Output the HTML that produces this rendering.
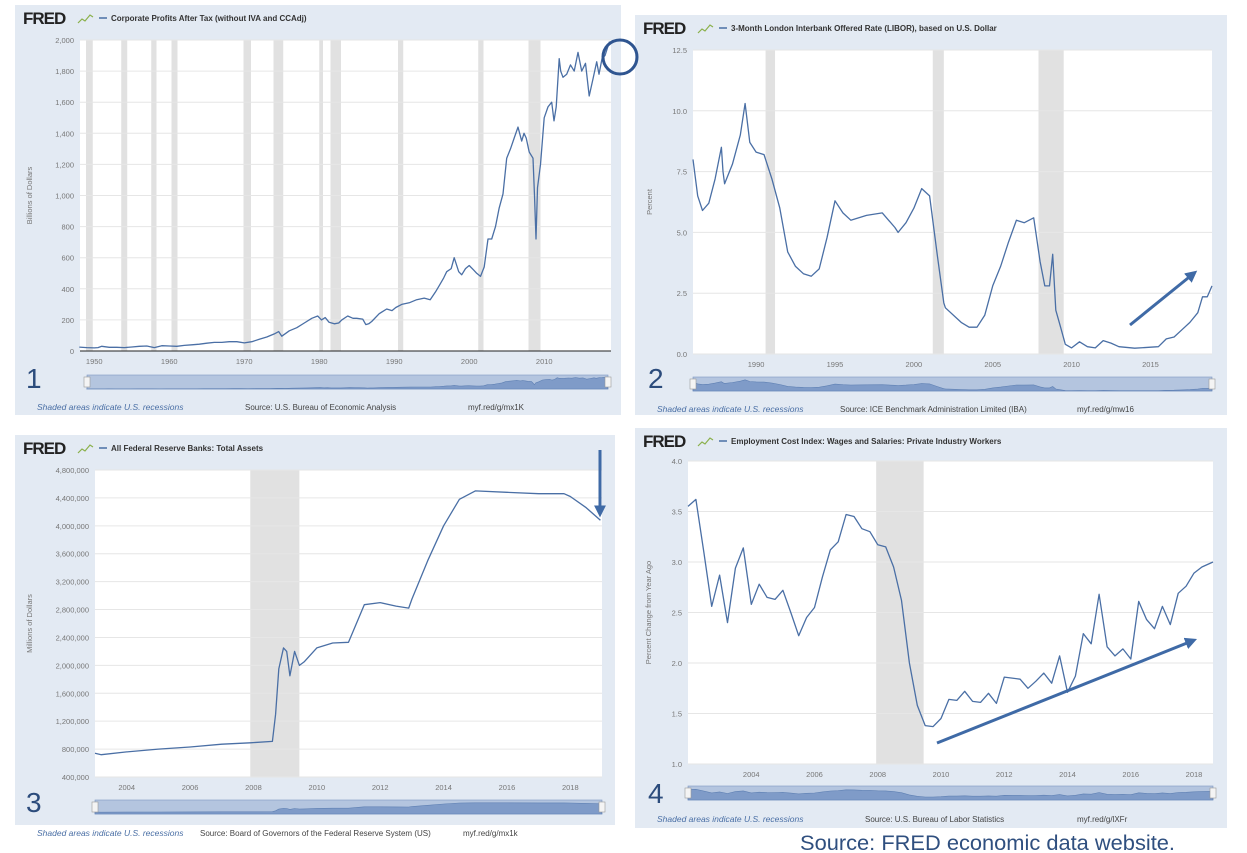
<!DOCTYPE html>
<html><head><meta charset="utf-8"><style>
html,body{margin:0;padding:0;background:#fff;}
svg{display:block;font-family:"Liberation Sans",sans-serif;}
</style></head><body>
<svg id="s" width="1247" height="853" viewBox="0 0 1247 853"></svg>
<script>
// ---- Chart 1: Corporate profits (billions)
const c1Years=[1948,1949,1950,1950.5,1951,1952,1953,1954,1955,1956,1957,1958,1959,1960,1961,1962,1963,1964,1965,1966,1967,1968,1969,1970,1971,1972,1973,1974,1974.6,1975,1976,1977,1978,1979,1979.8,1980.3,1980.8,1981.3,1982,1982.6,1983,1983.8,1984.5,1985,1985.8,1986.2,1986.6,1987,1988,1989,1989.7,1990.2,1991,1992,1993,1994,1994.8,1995.5,1996,1996.6,1997,1997.6,1998,1998.6,1999,1999.5,2000,2000.6,2001,2001.5,2002,2002.5,2003,2003.5,2004,2004.5,2005,2005.5,2006,2006.5,2007,2007.3,2007.6,2008,2008.5,2008.7,2008.9,2009.1,2009.5,2010,2010.5,2011,2011.3,2011.6,2012,2012.2,2012.5,2013,2013.5,2014,2014.5,2015,2015.5,2016,2016.5,2017,2017.3,2017.7,2018.1,2018.7];
const c1Vals=[25,22,20,22,30,24,24,22,26,30,32,22,34,32,30,36,40,44,50,55,55,60,60,52,60,75,90,110,125,95,130,150,180,210,225,200,215,185,175,180,200,225,210,210,205,170,175,190,240,270,260,280,300,310,330,340,330,380,420,470,510,530,600,510,490,530,550,520,500,480,540,720,720,800,920,1010,1240,1300,1370,1440,1350,1400,1370,1280,1240,1000,720,1050,1200,1500,1570,1600,1480,1570,1880,1800,1760,1780,1840,1800,1920,1800,1850,1640,1750,1860,1780,1880,1900,1990];
const c1YTicks=[0,200,400,600,800,1000,1200,1400,1600,1800,2000];
const c1YLabels=["0","200","400","600","800","1,000","1,200","1,400","1,600","1,800","2,000"];
const c1XTicks=[1950,1960,1970,1980,1990,2000,2010];
const c1Rec=[[1948.9,1949.8],[1953.6,1954.4],[1957.6,1958.3],[1960.3,1961.1],[1969.9,1970.9],[1973.9,1975.2],[1980.0,1980.5],[1981.5,1982.9],[1990.5,1991.2],[2001.2,2001.9],[2007.9,2009.5]];

// ---- Chart 2: LIBOR (percent)
const c2Years=[1986,1986.3,1986.6,1987,1987.4,1987.8,1987.9,1988,1988.5,1989,1989.3,1989.6,1990,1990.5,1991,1991.5,1992,1992.5,1993,1993.5,1994,1994.5,1995,1995.5,1996,1997,1998,1998.8,1999,1999.5,2000,2000.5,2001,2001.5,2001.9,2002,2003,2003.5,2004,2004.5,2005,2005.5,2006,2006.5,2007,2007.6,2008,2008.3,2008.6,2008.8,2009,2009.3,2009.6,2010,2010.5,2011,2011.5,2012,2012.5,2013,2014,2015,2015.5,2016,2016.5,2017,2017.5,2018,2018.3,2018.6,2018.9];
const c2Vals=[8,6.5,5.9,6.2,7.2,8.5,7.5,7,7.8,9,10.3,8.7,8.3,8.2,7.2,6.0,4.2,3.6,3.3,3.2,3.5,4.8,6.3,5.8,5.5,5.7,5.8,5.2,5.0,5.4,6.0,6.8,6.5,4.0,2.1,1.9,1.3,1.1,1.1,1.6,2.8,3.6,4.6,5.5,5.4,5.6,3.8,2.8,2.8,4.1,1.8,1.1,0.4,0.25,0.5,0.3,0.25,0.55,0.45,0.3,0.24,0.28,0.3,0.62,0.7,1.0,1.3,1.7,2.35,2.35,2.8];
const c2YTicks=[0,2.5,5,7.5,10,12.5];
const c2YLabels=["0.0","2.5","5.0","7.5","10.0","12.5"];
const c2XTicks=[1990,1995,2000,2005,2010,2015];
const c2Rec=[[1990.6,1991.2],[2001.2,2001.9],[2007.9,2009.5]];

// ---- Chart 3: Fed total assets (millions)
const c3Years=[2003,2003.2,2004,2005,2006,2007,2007.9,2008.6,2008.7,2008.8,2008.95,2009.05,2009.15,2009.3,2009.45,2009.6,2010,2010.5,2011,2011.5,2012,2012.5,2012.9,2013,2013.5,2014,2014.5,2015,2016,2017,2017.8,2018,2018.5,2018.95];
const c3Vals=[740000,720000,760000,800000,830000,870000,890000,910000,1300000,1950000,2250000,2200000,1850000,2200000,2000000,2050000,2250000,2320000,2330000,2870000,2900000,2850000,2820000,2950000,3500000,4000000,4380000,4500000,4480000,4460000,4460000,4420000,4260000,4080000];
const c3YTicks=[400000,800000,1200000,1600000,2000000,2400000,2800000,3200000,3600000,4000000,4400000,4800000];
const c3YLabels=["400,000","800,000","1,200,000","1,600,000","2,000,000","2,400,000","2,800,000","3,200,000","3,600,000","4,000,000","4,400,000","4,800,000"];
const c3XTicks=[2004,2006,2008,2010,2012,2014,2016,2018];
const c3Rec=[[2007.9,2009.45]];

// ---- Chart 4: ECI wages (pct change)
const c4Years=[2002,2002.25,2002.5,2002.75,2003,2003.25,2003.5,2003.75,2004,2004.25,2004.5,2004.75,2005,2005.25,2005.5,2005.75,2006,2006.25,2006.5,2006.75,2007,2007.25,2007.5,2007.75,2008,2008.25,2008.5,2008.75,2009,2009.25,2009.5,2009.75,2010,2010.25,2010.5,2010.75,2011,2011.25,2011.5,2011.75,2012,2012.25,2012.5,2012.75,2013,2013.25,2013.5,2013.75,2014,2014.25,2014.5,2014.75,2015,2015.25,2015.5,2015.75,2016,2016.25,2016.5,2016.75,2017,2017.25,2017.5,2017.75,2018,2018.25,2018.6];
const c4Vals=[3.55,3.62,3.1,2.56,2.87,2.4,2.94,3.14,2.58,2.78,2.65,2.63,2.72,2.5,2.27,2.45,2.55,2.85,3.12,3.2,3.47,3.45,3.33,3.3,3.17,3.15,2.95,2.62,2.0,1.58,1.38,1.37,1.45,1.64,1.63,1.72,1.62,1.61,1.7,1.6,1.86,1.85,1.84,1.75,1.82,1.9,1.8,2.07,1.71,1.87,2.29,2.19,2.68,2.16,2.07,2.14,2.04,2.61,2.43,2.34,2.56,2.38,2.69,2.76,2.89,2.95,3.0];
const c4YTicks=[1.0,1.5,2.0,2.5,3.0,3.5,4.0];
const c4YLabels=["1.0","1.5","2.0","2.5","3.0","3.5","4.0"];
const c4XTicks=[2004,2006,2008,2010,2012,2014,2016,2018];
const c4Rec=[[2007.95,2009.45]];

const NS="http://www.w3.org/2000/svg";
const svg=document.getElementById('s');
function mk(tag,attrs,parent,text){const e=document.createElementNS(NS,tag);for(const k in attrs)e.setAttribute(k,attrs[k]);if(text!==undefined)e.textContent=text;(parent||svg).appendChild(e);return e;}
const LINE="#4a6fa5";

function panel(cfg){
  const g=mk('g',{});
  
  
  const bg=mk('rect',{x:cfg.bx,y:cfg.by,width:cfg.bw,height:cfg.bh,fill:'#e3eaf3'},g);
  
  
  const L=cfg.L,R=cfg.R,T=cfg.T,B=cfg.B;
  const xs=v=>L+(v-cfg.x0)/(cfg.x1-cfg.x0)*(R-L);
  const ys=v=>B-(v-cfg.y0)/(cfg.y1-cfg.y0)*(B-T);
  const pa=mk('rect',{x:L,y:T,width:R-L,height:B-T,fill:'#fff'},g);
  
  
  cfg.rec.forEach(r=>{const e=mk('rect',{x:xs(r[0]),y:T,width:xs(r[1])-xs(r[0]),height:B-T,fill:'#e1e1e1'},g);
    
    });
  cfg.yt.forEach((v,i)=>{
    const gl=mk('line',{x1:L,x2:R,y1:ys(v),y2:ys(v),stroke:'#e6e6e6','stroke-width':1},g);
    
    
    const t=mk('text',{x:L-6,y:ys(v)+3,'font-size':7.5,fill:'#777','text-anchor':'end'},g,cfg.yl[i]);
    
    
  });
  if(cfg.axisLine){mk('line',{x1:L,x2:R,y1:B,y2:B,stroke:'#222','stroke-width':1},g);}
  cfg.xt.forEach(v=>{const t=mk('text',{x:xs(v),y:B+13,'font-size':7.5,fill:'#777','text-anchor':'middle'},g,String(v));
    
    });
  const pts=cfg.xv.map((x,i)=>xs(x).toFixed(1)+','+ys(cfg.yv[i]).toFixed(1)).join(' ');
  const pl=mk('polyline',{points:pts,fill:'none',stroke:LINE,'stroke-width':1.3,'stroke-linejoin':'round'},g);
  
  
  const yt=mk('text',{x:0,y:0,'font-size':7.5,fill:'#777','text-anchor':'middle',transform:`translate(${cfg.ytx},${(T+B)/2}) rotate(-90)`},g,cfg.ytitle);
  
  
  const lg=mk('text',{x:cfg.bx+8,y:cfg.by+19,'font-size':17,'font-weight':'bold',fill:'#222','letter-spacing':'-1'},g,'FRED');
  
  
  mk('path',{d:`M${cfg.bx+63} ${cfg.by+18} l4 -4 l3 2 l5 -6 l3 2`,fill:'none',stroke:'#8ab04a','stroke-width':1.2},g);
  mk('line',{x1:cfg.bx+84,x2:cfg.bx+92,y1:cfg.by+13,y2:cfg.by+13,stroke:LINE,'stroke-width':1.5},g);
  const tt=mk('text',{x:cfg.bx+96,y:cfg.by+16,'font-size':8,'font-weight':'bold',fill:'#333'},g,cfg.title);
  
  
  const nv=mk('rect',{x:cfg.nx0,y:cfg.ny,width:cfg.nx1-cfg.nx0,height:14,fill:'#b4c5df',stroke:'#7d97c2','stroke-width':0.6},g);
  
  
  const nxs=v=>cfg.nx0+(v-cfg.x0)/(cfg.x1-cfg.x0)*(cfg.nx1-cfg.nx0);
  const nys=v=>cfg.ny+14-(v-cfg.navMin)/(cfg.navMax-cfg.navMin)*12;
  let np=`${cfg.nx0},${cfg.ny+14} `+cfg.xv.map((x,i)=>nxs(x).toFixed(1)+','+Math.min(cfg.ny+14,nys(cfg.yv[i])).toFixed(1)).join(' ')+` ${cfg.nx1},${cfg.ny+14}`;
  mk('polygon',{points:np,fill:'#7f9bc8',stroke:'#5f80b3','stroke-width':0.6},g);
  [cfg.nx0,cfg.nx1].forEach(x=>{const h=mk('rect',{x:x-3,y:cfg.ny+2,width:6,height:10,fill:'#f4f4f4',stroke:'#999','stroke-width':0.6},g);
    
    });
  const f1=mk('text',{x:cfg.fx[0],y:cfg.fy,'font-size':8.5,'font-style':'italic',fill:'#4a6fa5'},g,'Shaded areas indicate U.S. recessions');
  
  
  const f2=mk('text',{x:cfg.fx[1],y:cfg.fy,'font-size':8,fill:'#444'},g,cfg.source);
  
  
  const f3=mk('text',{x:cfg.fx[2],y:cfg.fy,'font-size':8,fill:'#444'},g,cfg.link);
  
  
  const n=mk('text',{x:cfg.numx,y:cfg.numy,'font-size':28,fill:'#2c4c7c'},g,cfg.num);
  
  
}

panel({name:'corporate-profits-chart',bx:15,by:5,bw:606,bh:410,L:80,R:611,T:40,B:351,x0:1948.1,x1:2018.9,y0:0,y1:2000,
 xv:c1Years,yv:c1Vals,yt:c1YTicks,yl:c1YLabels,xt:c1XTicks,rec:c1Rec,axisLine:true,ytx:32,ytitle:'Billions of Dollars',
 title:'Corporate Profits After Tax (without IVA and CCAdj)',nx0:87,nx1:608,ny:375,navMin:0,navMax:2000,
 fx:[37,245,468],fy:410,source:'Source: U.S. Bureau of Economic Analysis',link:'myf.red/g/mx1K',num:'1',numx:26,numy:388});
panel({name:'libor-chart',bx:635,by:15,bw:592,bh:400,L:693,R:1212,T:50,B:354,x0:1986,x1:2018.9,y0:0,y1:12.5,
 xv:c2Years,yv:c2Vals,yt:c2YTicks,yl:c2YLabels,xt:c2XTicks,rec:c2Rec,axisLine:false,ytx:652,ytitle:'Percent',
 title:'3-Month London Interbank Offered Rate (LIBOR), based on U.S. Dollar',nx0:693,nx1:1212,ny:377,navMin:0,navMax:11,
 fx:[657,840,1077],fy:412,source:'Source: ICE Benchmark Administration Limited (IBA)',link:'myf.red/g/mw16',num:'2',numx:648,numy:388});
panel({name:'fed-assets-chart',bx:15,by:435,bw:600,bh:390,L:95,R:602,T:470,B:777,x0:2003,x1:2019,y0:400000,y1:4800000,
 xv:c3Years,yv:c3Vals,yt:c3YTicks,yl:c3YLabels,xt:c3XTicks,rec:c3Rec,axisLine:false,ytx:32,ytitle:'Millions of Dollars',
 title:'All Federal Reserve Banks: Total Assets',nx0:95,nx1:602,ny:800,navMin:0,navMax:4800000,
 fx:[37,200,463],fy:836,source:'Source: Board of Governors of the Federal Reserve System (US)',link:'myf.red/g/mx1k',num:'3',numx:26,numy:812});
panel({name:'employment-cost-chart',bx:635,by:428,bw:592,bh:400,L:688,R:1213,T:461,B:764,x0:2002,x1:2018.6,y0:1,y1:4,
 xv:c4Years,yv:c4Vals,yt:c4YTicks,yl:c4YLabels,xt:c4XTicks,rec:c4Rec,axisLine:false,ytx:651,ytitle:'Percent Change from Year Ago',
 title:'Employment Cost Index: Wages and Salaries: Private Industry Workers',nx0:688,nx1:1213,ny:786,navMin:0.5,navMax:4,
 fx:[657,865,1077],fy:822,source:'Source: U.S. Bureau of Labor Statistics',link:'myf.red/g/lXFr',num:'4',numx:648,numy:803});

const defs=mk('defs',{});
const mkr=mk('marker',{id:'ah',markerWidth:4,markerHeight:4,refX:2.2,refY:2,orient:'auto',markerUnits:'strokeWidth'},defs);
mk('path',{d:'M0,0 L4,2 L0,4 z',fill:'#3f6aa6'},mkr);
const circ=mk('circle',{cx:620,cy:57,r:17,fill:'none',stroke:'#2f5590','stroke-width':3});


[[1130,325,1193,274,'libor-trend-arrow'],[600,450,600,512,'fed-assets-down-arrow'],[937,743,1192,641,'wage-trend-arrow']].forEach(a=>{
  const l=mk('line',{x1:a[0],y1:a[1],x2:a[2],y2:a[3],stroke:'#3f6aa6','stroke-width':3,'marker-end':'url(#ah)'});
  
  
});
const src=mk('text',{x:800,y:850,'font-size':21,fill:'#2f4f7f',textLength:375,lengthAdjust:'spacingAndGlyphs'},svg,'Source: FRED economic data website.');


</script>
</body></html>
